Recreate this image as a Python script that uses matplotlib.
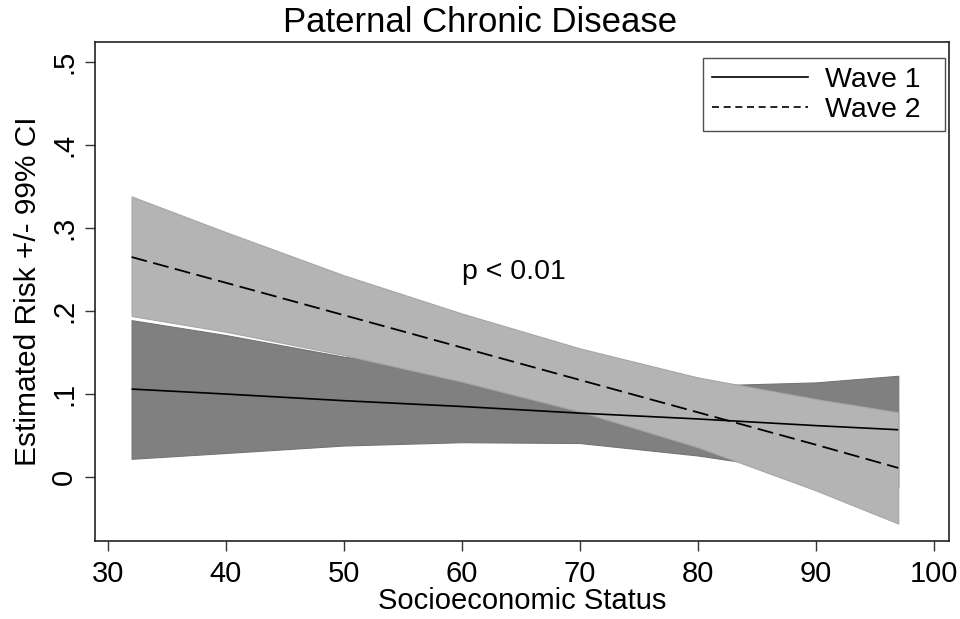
import matplotlib
matplotlib.use("Agg")
import matplotlib.pyplot as plt
from matplotlib.lines import Line2D

# ---- data ----
ses = [32, 40, 50, 60, 70, 80, 90, 97]

wave1_est = [0.106, 0.100, 0.092, 0.085, 0.077, 0.070, 0.062, 0.057]
wave1_lo  = [0.022, 0.029, 0.038, 0.042, 0.041, 0.026, 0.005, -0.012]
wave1_hi  = [0.189, 0.171, 0.145, 0.128, 0.113, 0.110, 0.114, 0.122]

wave2_est = [0.265, 0.234, 0.195, 0.156, 0.117, 0.078, 0.039, 0.011]
wave2_lo  = [0.194, 0.175, 0.147, 0.115, 0.079, 0.036, -0.016, -0.056]
wave2_hi  = [0.338, 0.295, 0.243, 0.197, 0.155, 0.120, 0.094, 0.078]

x_ticks = [30, 40, 50, 60, 70, 80, 90, 100]
y_ticks = [0, 0.1, 0.2, 0.3, 0.4, 0.5]
y_tick_labels = ["0", ".1", ".2", ".3", ".4", ".5"]
series_labels = ["Wave 1", "Wave 2"]

title = "Paternal Chronic Disease"
xlabel = "Socioeconomic Status"
ylabel = "Estimated Risk +/- 99% CI"
annotation = "p < 0.01"

plt.rcParams["font.family"] = ["Liberation Sans", "DejaVu Sans"]

fig = plt.figure(figsize=(9.6, 6.19), dpi=100)
ax = fig.add_axes([95 / 960, 1 - 541 / 619, (949 - 95) / 960, (541 - 42) / 619])

ax.fill_between(ses, wave1_lo, wave1_hi, facecolor="#808080", edgecolor="#747474",
                linewidth=0.8, zorder=2)
ax.fill_between(ses, wave2_lo, wave2_hi, facecolor="#b4b4b4", edgecolor="#a6a6a6",
                linewidth=0.8, zorder=3)
ax.plot(ses, wave1_est, color="black", linewidth=1.2, solid_capstyle="butt", zorder=4)
ax.plot(ses, wave2_est, color="black", linewidth=1.3, dashes=(8.8, 3.6), zorder=4)

ax.text(60, 0.247, annotation, ha="left", va="center", fontsize=20.5)

ax.set_xlim(28.9, 101.3)
ax.set_ylim(-0.077, 0.524)
ax.set_xticks(x_ticks)
ax.set_yticks(y_ticks)
ax.set_yticklabels(y_tick_labels, rotation=90, va="center")
ax.tick_params(axis="both", direction="out", length=7, width=1.0, color="#333333",
               labelsize=21)
ax.tick_params(axis="x", pad=7)
ax.tick_params(axis="y", pad=5)
for sp in ax.spines.values():
    sp.set_linewidth(1.2)
    sp.set_color("#222222")

fig.text(0.5, 1 - 22 / 619, title, ha="center", va="center", fontsize=25)
ax.set_xlabel(xlabel, fontsize=21, labelpad=-1)
ax.set_ylabel(ylabel, fontsize=21.5, labelpad=6)

handles = [Line2D([], [], color="black", linewidth=1.2),
           Line2D([], [], color="black", linewidth=1.2, dashes=(4.2, 2.8))]
x0 = (703 - 95) / 854
x1 = (945 - 95) / 854
ytop = (541 - 58) / 499
leg = ax.legend(handles, series_labels, loc="upper left",
                bbox_to_anchor=(x0, ytop - 0.14, x1 - x0, 0.14), mode="expand",
                borderaxespad=0, fontsize=20.5, frameon=True, fancybox=False,
                edgecolor="#222222", handlelength=3.4, handletextpad=0.6,
                labelspacing=0.15, borderpad=0.3)
leg.get_frame().set_linewidth(1.0)

fig.savefig("out.png", dpi=100, facecolor="white")
